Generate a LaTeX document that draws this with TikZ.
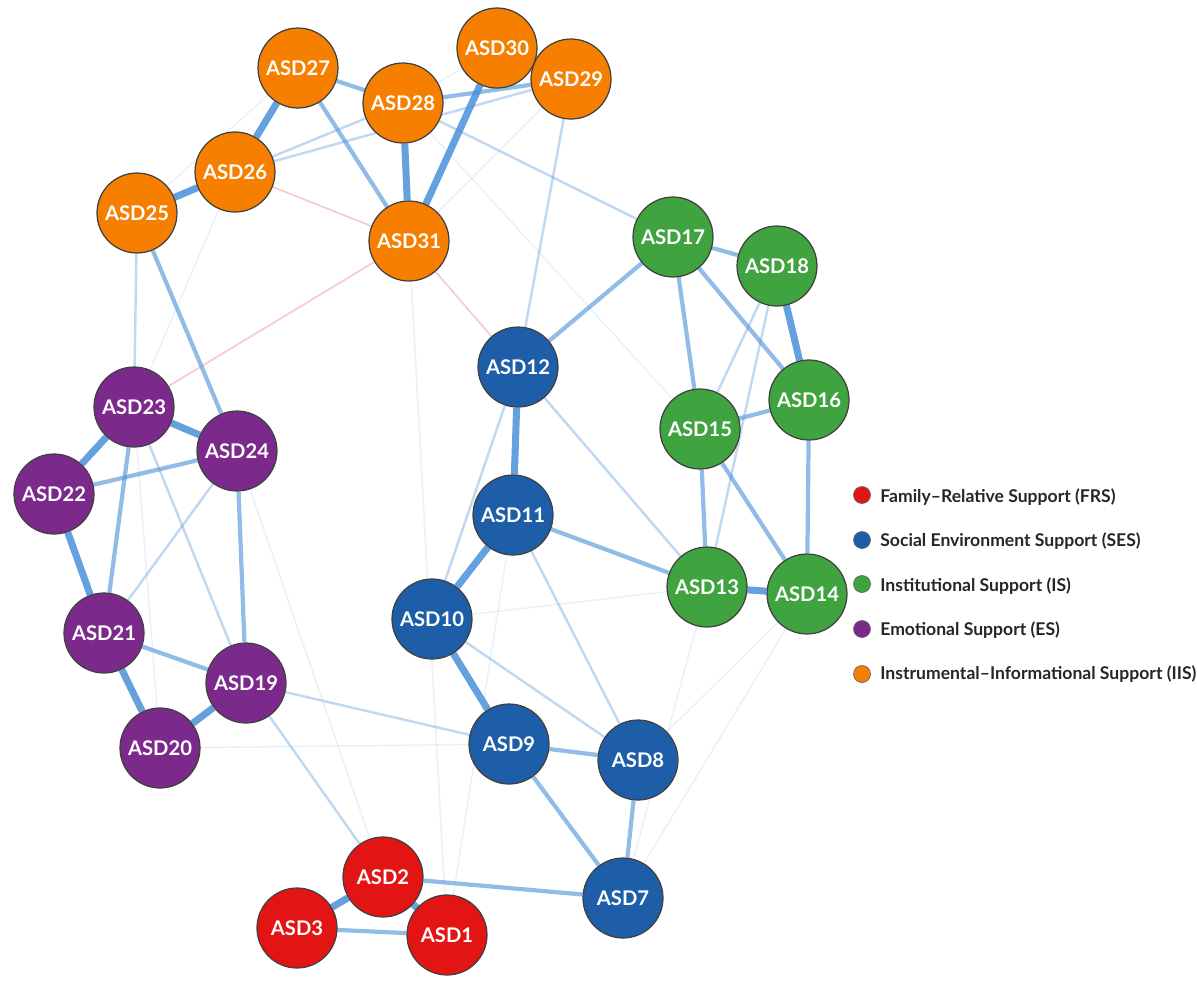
\documentclass[tikz,border=0pt]{standalone}
\usepackage{fontspec}
\setmainfont{Lato}
\usetikzlibrary{backgrounds}
\definecolor{frs}{HTML}{E31414}
\definecolor{ses}{HTML}{1E5EA8}
\definecolor{isg}{HTML}{3FA33F}
\definecolor{esp}{HTML}{7B2A8C}
\definecolor{iis}{HTML}{F77F00}
\definecolor{wblue}{HTML}{4A90D9}
\definecolor{wred}{HTML}{E8808A}
\tikzstyle{vertex}=[circle,draw=black!75,line width=0.7pt,minimum size=1.6cm,inner sep=0pt,text=white,font=\fontsize{11.5}{13}\selectfont\bfseries]
\tikzstyle{wstrong}=[wblue,line width=4pt,opacity=0.85]
\tikzstyle{wmid}=[wblue,line width=2.4pt,opacity=0.6]
\tikzstyle{wlow}=[wblue,line width=1.4pt,opacity=0.35]
\tikzstyle{wfaint}=[wblue,line width=0.8pt,opacity=0.13]
\tikzstyle{wneg}=[wred,line width=1pt,opacity=0.4]
\tikzstyle{legdot}=[circle,draw=black!60,line width=0.4pt,minimum size=0.34cm,inner sep=0pt]
\tikzstyle{legtext}=[anchor=west,inner sep=0pt,text=black!85,font=\fontsize{10}{12}\selectfont\bfseries]

\begin{document}
\begin{tikzpicture}[x=0.02cm,y=-0.02cm]
\useasboundingbox (0,0) rectangle (1197,1002);
% family-relative
\node[vertex,fill=frs] at (447, 935) (d1) {ASD1};
\node[vertex,fill=frs] at (383, 877) (d2) {ASD2};
\node[vertex,fill=frs] at (297, 928) (d3) {ASD3};
% social environment
\node[vertex,fill=ses] at (623, 898) (d7) {ASD7};
\node[vertex,fill=ses] at (638, 760) (d8) {ASD8};
\node[vertex,fill=ses] at (509, 744) (d9) {ASD9};
\node[vertex,fill=ses] at (432, 619) (d10) {ASD10};
\node[vertex,fill=ses] at (513, 515) (d11) {ASD11};
\node[vertex,fill=ses] at (518, 367) (d12) {ASD12};
% institutional
\node[vertex,fill=isg] at (707, 587) (d13) {ASD13};
\node[vertex,fill=isg] at (807, 594) (d14) {ASD14};
\node[vertex,fill=isg] at (700, 429) (d15) {ASD15};
\node[vertex,fill=isg] at (809, 400) (d16) {ASD16};
\node[vertex,fill=isg] at (673, 237) (d17) {ASD17};
\node[vertex,fill=isg] at (777, 266) (d18) {ASD18};
% emotional
\node[vertex,fill=esp] at (246, 683) (d19) {ASD19};
\node[vertex,fill=esp] at (160, 748) (d20) {ASD20};
\node[vertex,fill=esp] at (104, 633) (d21) {ASD21};
\node[vertex,fill=esp] at (54, 494) (d22) {ASD22};
\node[vertex,fill=esp] at (134, 407) (d23) {ASD23};
\node[vertex,fill=esp] at (237, 451) (d24) {ASD24};
% instrumental-informational
\node[vertex,fill=iis] at (137, 213) (d25) {ASD25};
\node[vertex,fill=iis] at (235, 172) (d26) {ASD26};
\node[vertex,fill=iis] at (298, 68) (d27) {ASD27};
\node[vertex,fill=iis] at (403, 103) (d28) {ASD28};
\node[vertex,fill=iis] at (571, 79) (d29) {ASD29};
\node[vertex,fill=iis] at (497, 48) (d30) {ASD30};
\node[vertex,fill=iis] at (409, 241) (d31) {ASD31};

\begin{pgfonlayer}{background}
% faint links
\draw[wfaint] (d28) edge (d30);
\draw[wfaint] (d29) edge (d31);
\draw[wfaint] (d25) edge (d27);
\draw[wfaint] (d26) edge (d23);
\draw[wfaint] (d28) edge (d15);
\draw[wfaint] (d10) edge (d13);
\draw[wfaint] (d20) edge (d9);
\draw[wfaint] (d8) edge (d14);
\draw[wfaint] (d7) edge (d14);
\draw[wfaint] (d7) edge (d13);
\draw[wfaint] (d11) edge (d1);
\draw[wfaint] (d24) edge (d2);
\draw[wfaint] (d23) edge (d20);
\draw[wneg] (d26) edge (d31);
\draw[wneg] (d31) edge (d23);
\draw[wneg] (d31) edge (d12);
\draw[wneg, opacity=0.15] (d31) edge (d1);
% weak links
\draw[wlow] (d26) edge (d29);
\draw[wlow] (d26) edge (d28);
\draw[wlow] (d28) edge (d17);
\draw[wlow] (d29) edge (d12);
\draw[wlow] (d25) edge (d23);
\draw[wlow] (d12) edge (d10);
\draw[wlow] (d12) edge (d13);
\draw[wlow] (d11) edge (d8);
\draw[wlow] (d10) edge (d8);
\draw[wlow] (d19) edge (d9);
\draw[wlow] (d19) edge (d2);
\draw[wlow] (d18) edge (d13);
\draw[wlow] (d18) edge (d15);
\draw[wlow] (d24) edge (d21);
\draw[wlow] (d23) edge (d19);
% medium links
\draw[wmid] (d27) edge (d28);
\draw[wmid] (d27) edge (d31);
\draw[wmid] (d28) edge (d29);
\draw[wmid] (d25) edge (d24);
\draw[wmid] (d9) edge (d8);
\draw[wmid] (d8) edge (d7);
\draw[wmid] (d9) edge (d7);
\draw[wmid] (d2) edge (d7);
\draw[wmid] (d3) edge (d1);
\draw[wmid] (d12) edge (d17);
\draw[wmid] (d11) edge (d13);
\draw[wmid] (d17) edge (d18);
\draw[wmid] (d17) edge (d16);
\draw[wmid] (d16) edge (d15);
\draw[wmid] (d16) edge (d14);
\draw[wmid] (d15) edge (d13);
\draw[wmid] (d15) edge (d14);
\draw[wmid] (d17) edge (d15);
\draw[wmid] (d21) edge (d19);
\draw[wmid] (d23) edge (d21);
\draw[wmid] (d22) edge (d24);
\draw[wmid] (d24) edge (d19);
% strong links
\draw[wstrong] (d27) edge (d26);
\draw[wstrong] (d26) edge (d25);
\draw[wstrong] (d28) edge (d31);
\draw[wstrong] (d30) edge (d31);
\draw[wstrong] (d30) edge (d29);
\draw[wstrong] (d2) edge (d3);
\draw[wstrong] (d2) edge (d1);
\draw[wstrong] (d12) edge (d11);
\draw[wstrong] (d11) edge (d10);
\draw[wstrong] (d10) edge (d9);
\draw[wstrong] (d18) edge (d16);
\draw[wstrong] (d13) edge (d14);
\draw[wstrong] (d23) edge (d24);
\draw[wstrong] (d23) edge (d22);
\draw[wstrong] (d22) edge (d21);
\draw[wstrong] (d21) edge (d20);
\draw[wstrong] (d20) edge (d19);
\end{pgfonlayer}

% legend
\node[legdot,fill=frs] at (862, 495) (lfrs) {};
\node[legdot,fill=ses] at (862, 540) (lses) {};
\node[legdot,fill=isg] at (862, 584) (lis) {};
\node[legdot,fill=esp] at (862, 629) (les) {};
\node[legdot,fill=iis] at (862, 674) (liis) {};
\node[legtext] at (880, 497) (tfrs) {Family–Relative Support (FRS)};
\node[legtext] at (880, 541) (tses) {Social Environment Support (SES)};
\node[legtext] at (880, 586) (tis) {Institutional Support (IS)};
\node[legtext] at (880, 630) (tes) {Emotional Support (ES)};
\node[legtext] at (880, 674) (tiis) {Instrumental–Informational Support (IIS)};
\end{tikzpicture}
\end{document}
